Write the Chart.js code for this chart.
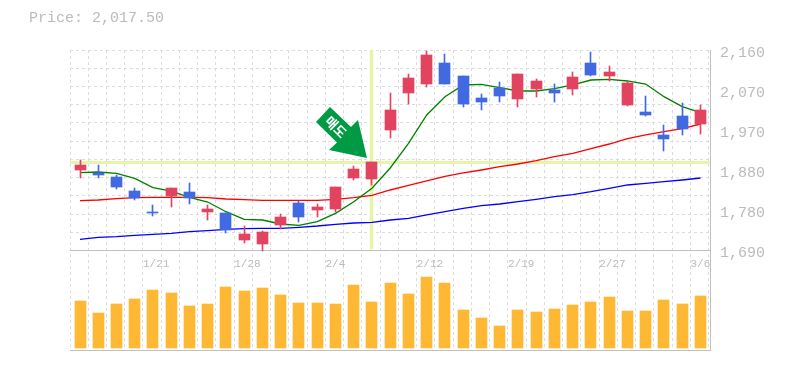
<!DOCTYPE html>
<html>
<head>
<meta charset="utf-8">
<script src="https://cdn.jsdelivr.net/npm/chart.js@4"></script>
<style>
  html, body { margin: 0; padding: 0; background: #fff; }
</style>
</head>
<body>
<canvas id="stock-chart" width="785" height="370"></canvas>
<script>
var titleText = "Price: 2,017.50";
var dates = ["1/15", "1/16", "1/17", "1/18", "1/21", "1/22", "1/23", "1/24", "1/25", "1/28", "1/29", "1/30", "1/31", "2/1", "2/4", "2/5", "2/7", "2/8", "2/11", "2/12", "2/13", "2/14", "2/15", "2/18", "2/19", "2/20", "2/21", "2/22", "2/26", "2/27", "2/28", "3/1", "3/4", "3/5", "3/6"];
var opens = [1878, 1871, 1861.55, 1828.65, 1779.3, 1816.9, 1826.3, 1779.3, 1776.95, 1713.5, 1704.1, 1748.75, 1800.45, 1784, 1786.35, 1859.2, 1856.85, 1972, 2058.95, 2080.1, 2129.45, 2098.9, 2047.2, 2070.7, 2044.85, 2068.35, 2066, 2068.35, 2129.45, 2098.9, 2030.75, 2014.3, 1960.25, 2004.9, 1986.1];
var closes = [1889.75, 1866.25, 1838.05, 1812.2, 1776.95, 1835.7, 1812.2, 1786.35, 1737, 1727.6, 1732.3, 1767.55, 1767.55, 1791.05, 1838.05, 1880.35, 1896.8, 2019, 2094.2, 2148.25, 2080.1, 2033.1, 2037.8, 2051.9, 2103.6, 2087.15, 2058.95, 2096.55, 2101.25, 2108.3, 2082.45, 2007.25, 1950.85, 1974.35, 2019];
var highs = [1901.5, 1889.75, 1866.25, 1835.7, 1795.75, 1835.7, 1847.45, 1795.75, 1776.95, 1746.4, 1734.65, 1774.6, 1805.15, 1798.1, 1838.05, 1887.4, 1896.8, 2058.95, 2103.6, 2157.65, 2150.6, 2098.9, 2056.6, 2084.8, 2103.6, 2091.85, 2080.1, 2108.3, 2155.3, 2122.4, 2084.8, 2051.9, 1983.75, 2035.45, 2030.75];
var lows = [1859.2, 1859.2, 1833.35, 1807.5, 1769.9, 1791.05, 1798.1, 1760.5, 1729.95, 1706.45, 1687.65, 1739.35, 1755.8, 1767.55, 1779.3, 1854.5, 1842.75, 1953.2, 2033.1, 2073.05, 2080.1, 2026.05, 2019, 2037.8, 2026.05, 2049.55, 2037.8, 2054.25, 2098.9, 2087.15, 2028.4, 2004.9, 1922.65, 1960.25, 1962.6];
var ma5 = [1871.7, 1873.3, 1870.3, 1858.5, 1836.4, 1828.6, 1813.8, 1802.8, 1780, 1762.1, 1760.5, 1751.1, 1748, 1756.5, 1776.2, 1803.5, 1835, 1882.7, 1940.8, 2007.3, 2050.3, 2077.8, 2079.4, 2071.4, 2063.7, 2063.7, 2069.1, 2077.8, 2089.5, 2091.1, 2087.2, 2080.1, 2050.3, 2026.8, 2012.7];
var ma20 = [1805.9, 1807.5, 1810.6, 1812.9, 1813.8, 1813.8, 1813.8, 1812.9, 1809.9, 1808.2, 1806.8, 1806.8, 1806.8, 1806.8, 1809.1, 1812.9, 1818.5, 1831, 1842, 1852.2, 1863.2, 1871, 1878, 1885.8, 1892.1, 1899.9, 1909.3, 1917.3, 1928, 1939.1, 1951.6, 1960.3, 1968, 1975.1, 1986.1];
var ma60 = [1715.2, 1719.9, 1721.3, 1724.6, 1726.9, 1729.3, 1733, 1735.4, 1738.7, 1740.1, 1741, 1741, 1743.4, 1746.4, 1750.4, 1753.4, 1755.1, 1760.5, 1764.5, 1772.3, 1780, 1788, 1794.1, 1798.1, 1803.5, 1809.1, 1815.3, 1820, 1827, 1835, 1842.8, 1846.8, 1850.5, 1854.5, 1859.2];
var volumes = [47000, 35000, 44000, 49000, 58000, 55000, 42000, 44000, 61000, 57000, 60000, 53000, 45000, 45000, 44000, 63000, 46000, 65000, 54000, 71000, 65000, 38000, 30000, 22000, 38000, 36000, 39000, 43000, 46000, 51000, 37000, 37000, 48000, 44000, 52000];
var yTickValues = [2160, 2066, 1972, 1878, 1784, 1690];
var yTickLabels = ["2,160", "2,070", "1,970", "1,880", "1,780", "1,690"];
var signalIndex = 16;
var signalText = "매도";

var upColor = "#e2435f";
var downColor = "#4169e1";
var greyText = "#bbbbbb";
var gridColor = "#dcdcdc";
var frameColor = "#c0c0c0";
var crossColor = "#e6f5a9";
var monoFont = "'Liberation Mono', monospace";

// price pane takes the upper 200px of the 300px plot, volume the lower part
var priceMax = 2160, priceMin = 1455;
var xMin = -0.5474, xMax = 34.5211;

var xGridTicks = [];
for (var k = 0; k <= 35; k++) {
	xGridTicks.push(k === 0 ? xMin + 0.001 : k - 0.54795);
}
var yGridTicks = [];
for (var r = 0; r <= 10; r++) {
	yGridTicks.push(priceMax - ((r === 0 ? 0.01 : r * 18.25 - 0.01) * 2.35));
}

function points(values) {
	return values.map(function(v, i) { return { x: i, y: v }; });
}
function candleColors() {
	return closes.map(function(c, i) { return c >= opens[i] ? upColor : downColor; });
}
function lineSet(label, values, color, order) {
	return { type: "line", label: label, data: points(values), borderColor: color, borderWidth: 1.3, pointRadius: 0, tension: 0, order: order, yAxisID: "y" };
}

// bars sit on whole pixels, like the hard edged original
var snapBars = {
	id: "snapBars",
	afterDatasetsUpdate: function(chart) {
		chart.data.datasets.forEach(function(ds, i) {
			if (ds.type !== "bar") return;
			chart.getDatasetMeta(i).data.forEach(function(el) {
				el.x = Math.floor(Math.max(el.x, chart.chartArea.left + 10)) + 0.5;
			});
		});
	}
};

// green arrow sticker, its tip hangs off the signal candle
var signalArrow = {
	id: "signalArrow",
	afterDatasetsDraw: function(chart) {
		var ctx = chart.ctx;
		var tipX = chart.scales.x.getPixelForValue(signalIndex) - 5;
		var tipY = chart.scales.y.getPixelForValue(closes[signalIndex]) - 4;
		var shape = [[0, 0], [-9, -38], [-16, -31], [-37, -51], [-51, -36], [-30, -15.5], [-38, -8]];
		ctx.save();
		ctx.fillStyle = "#009a44";
		ctx.beginPath();
		shape.forEach(function(p, i) {
			if (i === 0) ctx.moveTo(tipX + p[0], tipY + p[1]);
			else ctx.lineTo(tipX + p[0], tipY + p[1]);
		});
		ctx.closePath();
		ctx.fill();
		ctx.translate(tipX - 31, tipY - 31);
		ctx.rotate(Math.PI / 4);
		ctx.fillStyle = "#ffffff";
		ctx.font = "bold 13px 'Noto Sans CJK KR'";
		ctx.textAlign = "center";
		ctx.textBaseline = "middle";
		ctx.fillText(signalText, 0, 0);
		ctx.restore();
	}
};

var ctx = document.getElementById("stock-chart");
new Chart(ctx, {
	data: {
		datasets: [
			{ type: "line", label: "cross h", data: [{ x: xMin, y: 1895.6 }, { x: xMax, y: 1895.6 }], borderColor: crossColor, borderWidth: 3, pointRadius: 0, order: 9, yAxisID: "y" },
			{ type: "bar", label: "cross v", data: [{ x: signalIndex, y: [1692.35, priceMax] }], backgroundColor: crossColor, barThickness: 3, grouped: false, order: 8, yAxisID: "y" },
			lineSet("MA5", ma5, "#007f00", 5),
			lineSet("MA20", ma20, "#ff0000", 6),
			lineSet("MA60", ma60, "#0000ff", 7),
			{ type: "bar", label: "wick", data: closes.map(function(c, i) { return { x: i, y: [lows[i], highs[i]] }; }), backgroundColor: candleColors(), barThickness: 1, grouped: false, order: 2, yAxisID: "y" },
			{ type: "bar", label: "body", data: closes.map(function(c, i) { return { x: i, y: [opens[i], c] }; }), backgroundColor: candleColors(), barThickness: 11, grouped: false, order: 1, yAxisID: "y" },
			{ type: "bar", label: "volume", data: points(volumes), backgroundColor: "#ffb833", barThickness: 11, grouped: false, order: 3, yAxisID: "yVolume" }
		]
	},
	options: {
		responsive: false,
		animation: false,
		devicePixelRatio: 1,
		layout: {
			padding: { left: 29, right: 0, top: 0, bottom: 20 }
		},
		plugins: {
			legend: { display: false },
			tooltip: { enabled: false },
			title: {
				display: true,
				text: titleText,
				align: "start",
				color: greyText,
				font: { family: monoFont, size: 15, weight: "normal", lineHeight: 1.2 },
				padding: { top: 9, bottom: 23 }
			}
		},
		scales: {
			x: {
				type: "linear",
				position: { y: 1689.9 },
				min: xMin,
				max: xMax,
				offset: false,
				afterBuildTicks: function(axis) {
					axis.ticks = xGridTicks.map(function(v) { return { value: v }; });
				},
				grid: { color: gridColor, drawTicks: false, offset: false },
				border: { color: frameColor, dash: [3, 3] },
				ticks: {
					align: "start",
					autoSkip: false,
					maxRotation: 0,
					padding: 7,
					color: greyText,
					font: { family: monoFont, size: 11 },
					callback: function(value, index) {
						return index % 5 === 4 ? dates[index] : "";
					}
				}
			},
			xFrame: {
				axis: "x",
				type: "linear",
				position: "bottom",
				min: 0,
				max: 1,
				grid: { display: false, drawTicks: false },
				border: { color: frameColor },
				ticks: { display: false }
			},
			y: {
				type: "linear",
				position: "left",
				min: priceMin,
				max: priceMax,
				afterFit: function(axis) { axis.width = 41; },
				afterBuildTicks: function(axis) {
					axis.ticks = yGridTicks.map(function(v) { return { value: v }; });
				},
				grid: { color: gridColor, drawTicks: false },
				border: { display: false, dash: [3, 3] },
				ticks: { display: false }
			},
			// same range moved by 3px so the labels hang just below their value
			yLabels: {
				axis: "y",
				type: "linear",
				position: "right",
				min: priceMin + 7.05,
				max: priceMax + 7.05,
				afterFit: function(axis) {
					axis.width = 75;
					axis.paddingTop = 0;
					axis.paddingBottom = 0;
				},
				afterBuildTicks: function(axis) {
					axis.ticks = yTickValues.map(function(v) { return { value: v }; });
				},
				grid: { display: false, drawTicks: false },
				border: { color: frameColor },
				ticks: {
					padding: 10,
					autoSkip: false,
					color: greyText,
					font: { family: monoFont, size: 15 },
					callback: function(value, index) {
						return yTickLabels[index];
					}
				}
			},
			yVolume: {
				axis: "y",
				type: "linear",
				display: false,
				min: -2000,
				max: 298000
			}
		}
	},
	plugins: [snapBars, signalArrow]
});
</script>
</body>
</html>
